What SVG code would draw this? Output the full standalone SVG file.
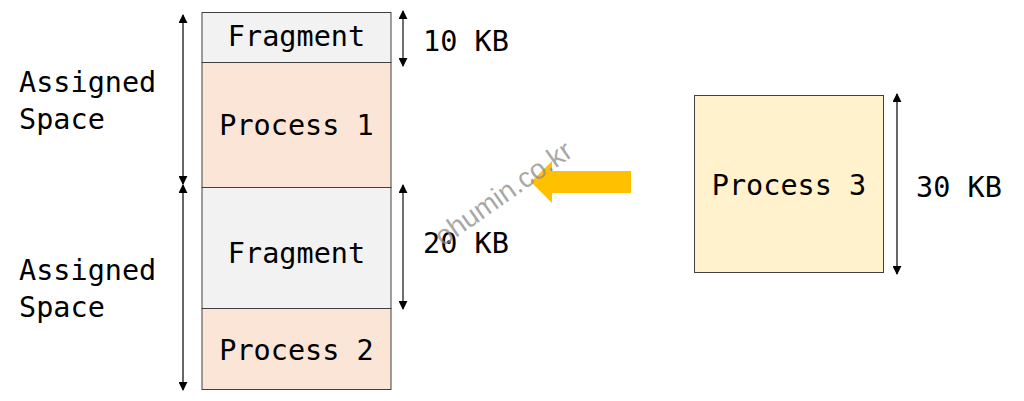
<svg xmlns="http://www.w3.org/2000/svg" width="1024" height="401" viewBox="0 0 1024 401">
<style>
.t{font-family:"DejaVu Sans Mono","Liberation Mono",monospace;font-size:28.5px;fill:#000}
.m{text-anchor:middle}
.frag{fill:#f2f2f2;stroke:#404040;stroke-width:1}
.proc{fill:#fbe5d6;stroke:#404040;stroke-width:1}
.proc3{fill:#fff2cc;stroke:#404040;stroke-width:1}
.dim{stroke:#000;stroke-width:1.2;fill:none;marker-start:url(#ah);marker-end:url(#ah)}
.dim2{stroke:#404040;stroke-width:1.5;fill:none;marker-start:url(#ah);marker-end:url(#ah)}
</style>
<defs>
<marker id="ah" viewBox="0 0 10 10" refX="9" refY="5" markerWidth="9" markerHeight="9" markerUnits="userSpaceOnUse" orient="auto-start-reverse"><path d="M0,0 L10,5 L0,10 z" fill="#000"/></marker>
</defs>
<rect width="1024" height="401" fill="#fff"/>
<g id="fragment1"><rect class="frag" x="202" y="12.5" width="189" height="50"/><text class="t m" x="296.5" y="46">Fragment</text></g>
<g id="process1"><rect class="proc" x="202" y="62.5" width="189" height="125"/><text class="t m" x="296.5" y="135">Process 1</text></g>
<g id="fragment2"><rect class="frag" x="202" y="187.5" width="189" height="121"/><text class="t m" x="296.5" y="263">Fragment</text></g>
<g id="process2"><rect class="proc" x="202" y="308.5" width="189" height="81"/><text class="t m" x="296.5" y="360">Process 2</text></g>
<g id="process3"><rect class="proc3" x="694.5" y="95.5" width="189" height="177"/><text class="t m" x="789" y="195">Process 3</text></g>
<g id="labels">
<text class="t" x="19" y="92">Assigned</text><text class="t" x="19" y="129">Space</text>
<text class="t" x="19" y="280">Assigned</text><text class="t" x="19" y="317">Space</text>
<text class="t" x="423" y="51">10 KB</text>
<text class="t" x="423" y="253">20 KB</text>
<text class="t" x="916" y="197">30 KB</text>
</g>
<g id="connectors">
<line class="dim" x1="183" y1="15" x2="183" y2="184"/>
<line class="dim" x1="183" y1="185" x2="183" y2="390"/>
<line class="dim2" x1="403" y1="11" x2="403" y2="66"/>
<line class="dim2" x1="403" y1="185" x2="403" y2="309"/>
<line class="dim" x1="897" y1="94" x2="897" y2="274"/>
<path d="M631,171 L552,171 L552,161 L531,182 L552,203 L552,193 L631,193 z" fill="#ffc000"/>
</g>
<text x="443" y="247" transform="rotate(-35 443 247)" font-family="Liberation Sans, Arial, sans-serif" font-size="28" fill="#8c8c8c" fill-opacity="0.75">ohumin.co.kr</text>
</svg>
